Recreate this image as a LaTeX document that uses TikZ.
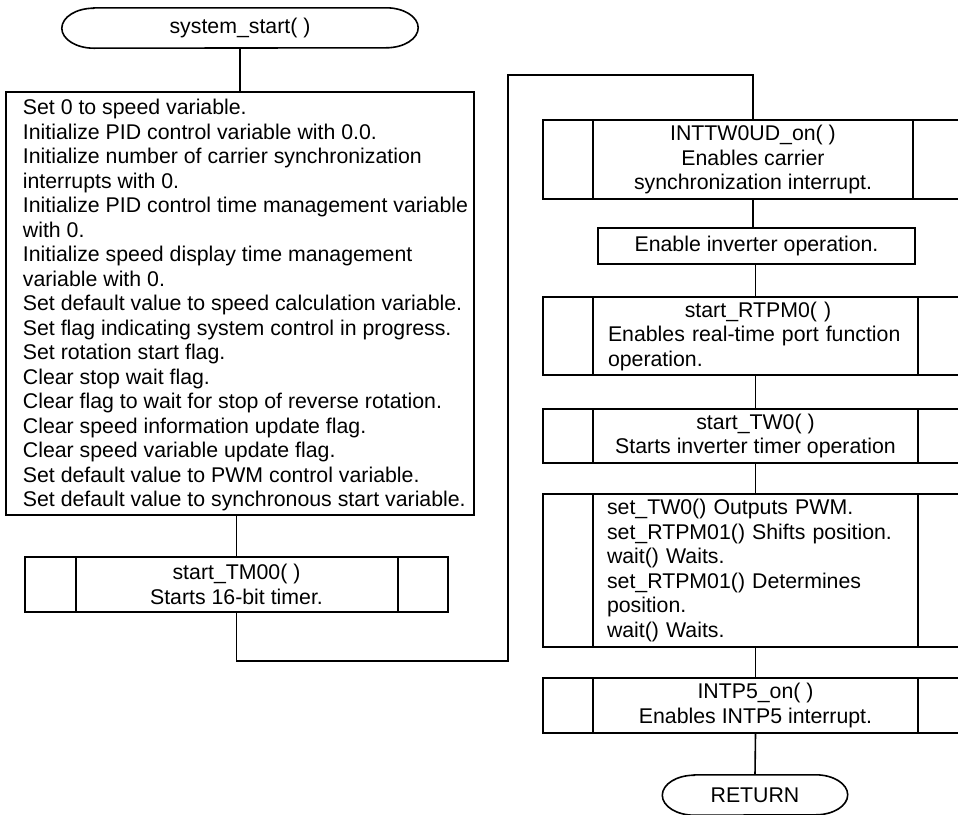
\documentclass[tikz,border=0pt]{standalone}
\usepackage{fontspec}
\setmainfont{Liberation Sans}
\newcommand\sublines[1]{\draw[lw] ([xshift=51pt]#1.north west) -- ([xshift=51pt]#1.south west) ([xshift=-51pt]#1.north east) -- ([xshift=-51pt]#1.south east);}
\newcommand\termshape[1]{\draw[lw] ([xshift=32pt]#1.north west) -- ([xshift=-32pt]#1.north east) arc[start angle=90, end angle=-90, x radius=32pt, y radius=20pt] -- ([xshift=32pt]#1.south west) arc[start angle=270, end angle=90, x radius=32pt, y radius=20pt] -- cycle;}
\begin{document}
\begin{tikzpicture}[x=1pt,y=-1pt,
  lw/.style={line width=1.6pt},
  boxshape/.style={draw, lw, rectangle, inner sep=0pt},
  txt/.style={font=\fontsize{21.3}{24.5}\selectfont, inner sep=0pt},
  ctxt/.style={txt, align=center}]

\useasboundingbox (0,0) rectangle (958,814);
\clip (0,0) rectangle (958,814);

% start terminal
\node[txt, minimum width=356pt, minimum height=40pt] (start) at (240,28) {system\_start( )};
\termshape{start}

% init box
\node[boxshape, minimum width=468pt, minimum height=423pt] (init) at (240,303.5) {};
\node[txt, align=left, anchor=north west] (initText) at (22.7,99) {Set 0 to speed variable.\\
Initialize PID control variable with 0.0.\\
Initialize number of carrier synchronization\\
interrupts with 0.\\
Initialize PID control time management variable\\
with 0.\\
Initialize speed display time management\\
variable with 0.\\
Set default value to speed calculation variable.\\
Set flag indicating system control in progress.\\
Set rotation start flag.\\
Clear stop wait flag.\\
Clear flag to wait for stop of reverse rotation.\\
Clear speed information update flag.\\
Clear speed variable update flag.\\
Set default value to PWM control variable.\\
Set default value to synchronous start variable.};
\draw[lw] (start.south) -- (start.south |- init.north);

% start_TM00
\node[boxshape, minimum width=423pt, minimum height=55pt] (tm) at (236.5,584.5) {};
\draw[lw] ([xshift=52pt]tm.north west) -- ([xshift=52pt]tm.south west);
\draw[lw] ([xshift=-51pt]tm.north east) -- ([xshift=-51pt]tm.south east);
\node[ctxt] (tmText) at (tm.center) {start\_TM00( )\\Starts 16-bit timer.};
\draw[lw] (tm.north |- init.south) -- (tm.north);

% right column
\node[boxshape, minimum width=420pt, minimum height=79pt] (inttw) at (753,159.5) {};
\sublines{inttw}
\node[ctxt] (inttwText) at (inttw.center) {INTTW0UD\_on( )\\Enables carrier\\synchronization interrupt.};

\node[boxshape, minimum width=317pt, minimum height=36pt] (inv) at (756.5,246) {};
\node[ctxt] (invText) at (inv.center) {Enable inverter operation.};

\node[boxshape, minimum width=425pt, minimum height=78pt] (rtpm) at (755.5,336) {};
\sublines{rtpm}
\node[txt, align=left, text width=300pt] (rtpmText) at (758,336) {\hspace*{\fill}start\_RTPM0( )\hspace*{\fill}\null\\Enables real-time port function\\operation.};

\node[boxshape, minimum width=425pt, minimum height=54pt] (tw) at (755.5,436) {};
\sublines{tw}
\node[ctxt] (twText) at (tw.center) {start\_TW0( )\\Starts inverter timer operation};

\node[boxshape, minimum width=425pt, minimum height=153pt] (set) at (755.5,570.5) {};
\sublines{set}
\node[txt, align=left, text width=310pt] (setText) at (762,570.5) {set\_TW0() Outputs PWM.\\
set\_RTPM01() Shifts position.\\
wait() Waits.\\
set\_RTPM01() Determines\\
position.\\
wait() Waits.};

\node[boxshape, minimum width=425pt, minimum height=55pt] (intp) at (755.5,705.5) {};
\sublines{intp}
\node[ctxt] (intpText) at (intp.center) {INTP5\_on( )\\Enables INTP5 interrupt.};

\node[txt, minimum width=185pt, minimum height=40pt] (ret) at (755,795) {RETURN};
\termshape{ret}

% connectors
\draw[lw] (tm.south) -- ++(0,48) -| (508,75) -| (inttw.north);
\draw[lw] (inttw.south) -- (inttw.south |- inv.north);
\draw[lw] (rtpm.north |- inv.south) -- (rtpm.north);
\draw[lw] (rtpm.south) -- (tw.north);
\draw[lw] (tw.south) -- (set.north);
\draw[lw] (set.south) -- (intp.north);
\draw[lw] (intp.south) -- (ret.north);
\end{tikzpicture}
\end{document}
